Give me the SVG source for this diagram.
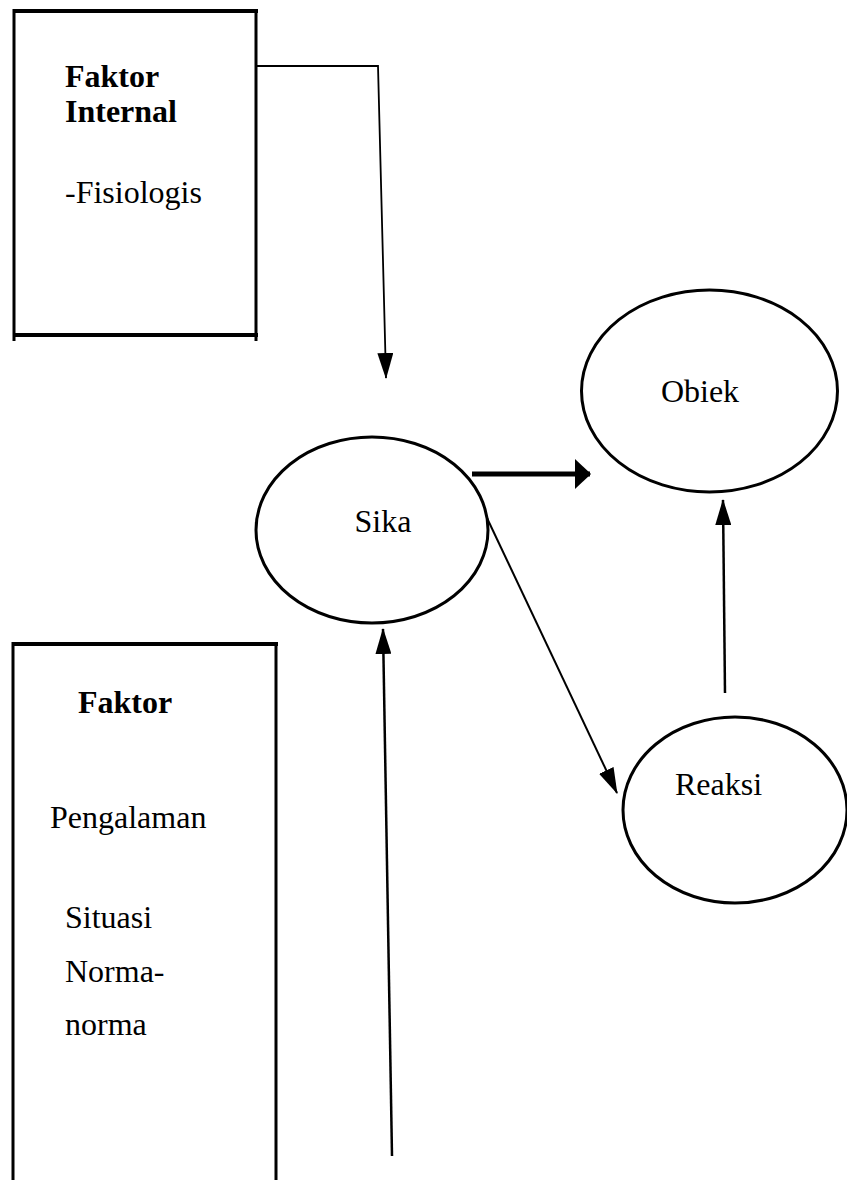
<svg xmlns="http://www.w3.org/2000/svg" width="847" height="1180" viewBox="0 0 847 1180">
<style>
.t{font-family:"Liberation Serif","Times New Roman",serif;font-size:32px;fill:#000}
.b{font-weight:bold}
.box{stroke:#000;fill:none;stroke-linecap:butt}
.el{fill:#fff;stroke:#000;stroke-width:3}
.c{fill:none;stroke:#000}
</style>
<defs>
<marker id="ah" markerUnits="userSpaceOnUse" markerWidth="26" markerHeight="16" refX="25" refY="8" orient="auto">
<path d="M0,0 L26,8 L0,16 z" fill="#000"/>
</marker>
<marker id="ahb" markerUnits="userSpaceOnUse" markerWidth="16" markerHeight="30" refX="15" refY="15" orient="auto">
<path d="M0,0 L16,15 L0,30 z" fill="#000"/>
</marker>
</defs>
<rect width="847" height="1180" fill="#fff"/>
<g id="faktor-internal">
<line class="box" x1="13" y1="11" x2="258" y2="11" stroke-width="4"/>
<line class="box" x1="13" y1="335" x2="258" y2="335" stroke-width="4"/>
<line class="box" x1="14" y1="9" x2="14" y2="341" stroke-width="3"/>
<line class="box" x1="256" y1="9" x2="256" y2="341" stroke-width="3"/>
<text class="t b" x="65" y="87">Faktor</text>
<text class="t b" x="65" y="122">Internal</text>
<text class="t" x="65" y="203">-Fisiologis</text>
</g>
<g id="faktor-eksternal">
<line class="box" x1="12" y1="644" x2="278" y2="644" stroke-width="4"/>
<line class="box" x1="13" y1="642" x2="13" y2="1180" stroke-width="3"/>
<line class="box" x1="276" y1="642" x2="276" y2="1180" stroke-width="3"/>
<text class="t b" x="78" y="713">Faktor</text>
<text class="t" x="50" y="828">Pengalaman</text>
<text class="t" x="65" y="928">Situasi</text>
<text class="t" x="65" y="982">Norma-</text>
<text class="t" x="65" y="1035">norma</text>
</g>
<g id="sikap">
<ellipse class="el" cx="372" cy="530" rx="116" ry="93"/>
<text class="t" x="383" y="532" text-anchor="middle">Sika</text>
</g>
<g id="objek">
<ellipse class="el" cx="709.5" cy="391" rx="128" ry="101"/>
<text class="t" x="700" y="402" text-anchor="middle">Obiek</text>
</g>
<g id="reaksi">
<ellipse class="el" cx="735" cy="810" rx="112" ry="93"/>
<text class="t" x="675" y="795">Reaksi</text>
</g>
<g id="connectors">
<path class="c" d="M257,66 H378 L386,378" stroke-width="1.8" marker-end="url(#ah)"/>
<line class="c" x1="472" y1="474" x2="590" y2="474" stroke-width="5" marker-end="url(#ahb)"/>
<line class="c" x1="487" y1="518" x2="617" y2="793" stroke-width="2" marker-end="url(#ah)"/>
<line class="c" x1="725" y1="693" x2="723" y2="500" stroke-width="2.5" marker-end="url(#ah)"/>
<line class="c" x1="392" y1="1156" x2="383" y2="629" stroke-width="2.5" marker-end="url(#ah)"/>
</g>
</svg>
